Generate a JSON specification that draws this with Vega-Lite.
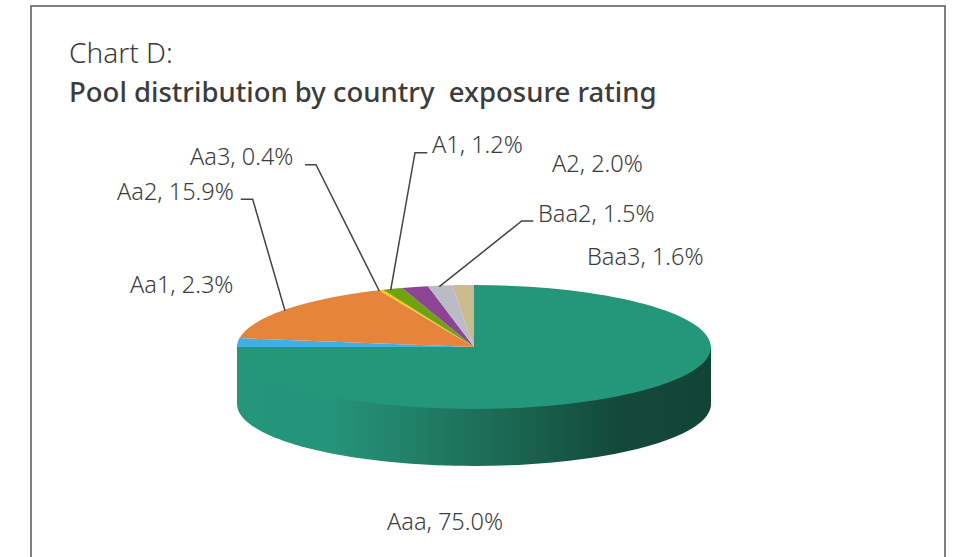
{"$schema":"https://vega.github.io/schema/vega-lite/v6.json","width":955,"height":557,"padding":0,"autosize":"none","background":"white","view":{"stroke":null},
"config":{"font":"Noto Sans"},
"title":{"text":"Chart D:","subtitle":"Pool distribution by country\u00a0 exposure rating","anchor":"start","frame":"group","orient":"top","offset":0,"dx":69,"dy":107,"font":"Noto Sans","fontSize":28,"fontWeight":300,"color":"#3c3c3c","subtitleFont":"Noto Sans","subtitleFontSize":27.5,"subtitleFontWeight":500,"subtitleColor":"#3c3c3c","subtitlePadding":11},
"data":{"values":[{"rating":"Aaa","share":75.0,"label":"Aaa, 75.0%"},{"rating":"Aa1","share":2.3,"label":"Aa1, 2.3%"},{"rating":"Aa2","share":15.9,"label":"Aa2, 15.9%"},{"rating":"Aa3","share":0.4,"label":"Aa3, 0.4%"},{"rating":"A1","share":1.2,"label":"A1, 1.2%"},{"rating":"A2","share":2.0,"label":"A2, 2.0%"},{"rating":"Baa2","share":1.5,"label":"Baa2, 1.5%"},{"rating":"Baa3","share":1.6,"label":"Baa3, 1.6%"}]},
"layer":[
{"transform":[{"filter":"datum.rating==='Aaa'"}],
"mark":{"type":"point","filled":true,"opacity":1,"strokeWidth":0,"shape":"M-237,0 L-237,57 A237,62 0 0 0 237,57 L237,0 Z","fill":{"gradient":"linear","x1":0,"y1":0,"x2":1,"y2":0,"stops":[{"offset":0,"color":"#24967a"},{"offset":0.2,"color":"#24947a"},{"offset":0.38,"color":"#217f67"},{"offset":0.55,"color":"#1c6a55"},{"offset":0.8,"color":"#14493a"},{"offset":1,"color":"#124436"}]}},
"encoding":{"x":{"field":"share","type":"quantitative","scale":{"domain":[0,100],"range":[474,474]},"axis":null},"y":{"field":"share","type":"quantitative","scale":{"domain":[0,100],"range":[347,347]},"axis":null},"size":{"value":4}}},
{"mark":{"type":"point","filled":true,"opacity":1,"strokeWidth":0},
"encoding":{"x":{"field":"share","type":"quantitative","scale":{"domain":[0,100],"range":[474,474]},"axis":null},"y":{"field":"share","type":"quantitative","scale":{"domain":[0,100],"range":[347,347]},"axis":null},"size":{"value":4},
"shape":{"field":"rating","type":"nominal","legend":null,"scale":{"domain":["Aaa","Aa1","Aa2","Aa3","A1","A2","Baa2","Baa3"],"range":["M0,0 L0,-62 A237,62 0 1 1 -237,0 Z","M0,0 L-237,0 A237,62 0 0 1 -234.5,-8.9 Z","M0,0 L-234.5,-8.9 A237,62 0 0 1 -95,-56.8 Z","M0,0 L-95,-56.8 A237,62 0 0 1 -91,-57.25 Z","M0,0 L-91,-57.25 A237,62 0 0 1 -72,-59.1 Z","M0,0 L-72,-59.1 A237,62 0 0 1 -46,-60.8 Z","M0,0 L-46,-60.8 A237,62 0 0 1 -22,-61.7 Z","M0,0 L-22,-61.7 A237,62 0 0 1 0,-62 Z"]}},
"color":{"field":"rating","type":"nominal","legend":null,"scale":{"domain":["Aaa","Aa1","Aa2","Aa3","A1","A2","Baa2","Baa3"],"range":["#24967a","#3fb0e3","#e5843a","#f2c81e","#6fa30f","#8e4494","#b9bcc4","#c9bb8e"]}}}},
{"transform":[{"filter":{"field":"rating","oneOf":["Aa2","Aa3","A1","Baa2"]}}],
"mark":{"type":"point","filled":false,"fill":null,"opacity":1,"strokeWidth":1.5,"stroke":"#444444"},
"encoding":{"x":{"field":"share","type":"quantitative","scale":{"domain":[0,100],"range":[474,474]},"axis":null},"y":{"field":"share","type":"quantitative","scale":{"domain":[0,100],"range":[347,347]},"axis":null},"size":{"value":4},
"shape":{"field":"rating","type":"nominal","legend":null,"scale":{"domain":["Aa2","Aa3","A1","Baa2"],"range":["M-233.3,-147.7 L-221.3,-147.7 L-189,-36.3","M-169,-182.3 L-158,-182.3 L-94.7,-56","M-46.7,-194.3 L-59,-194.3 L-83.3,-57","M59.3,-126 L47.7,-126 L-34.7,-60.3"]}}}},
{"mark":{"type":"text","align":"left","baseline":"alphabetic","fontSize":23.5,"font":"Noto Sans","fontWeight":300,"color":"#3c3c3c"},
"encoding":{"text":{"field":"label","type":"nominal"},
"x":{"field":"share","type":"quantitative","axis":null,"scale":{"zero":false,"nice":false,"domain":[0.4,1.2,1.5,1.6,2.0,2.3,15.9,75],"range":[190,432,538,587,552,130,117,387]}},
"y":{"field":"share","type":"quantitative","axis":null,"scale":{"zero":false,"nice":false,"domain":[0.4,1.2,1.5,1.6,2.0,2.3,15.9,75],"range":[165,153,222,265,172,293,200,530]}}}},
{"transform":[{"filter":"datum.rating==='Aaa'"}],
"mark":{"type":"point","filled":false,"fill":null,"opacity":1,"strokeWidth":1.5,"stroke":"#555555","shape":"M31,560 L31,6 L945,6 L945,560"},
"encoding":{"x":{"value":0},"y":{"value":0},"size":{"value":4}}}
],
"resolve":{"scale":{"x":"independent","y":"independent","shape":"independent","color":"independent"}}}
